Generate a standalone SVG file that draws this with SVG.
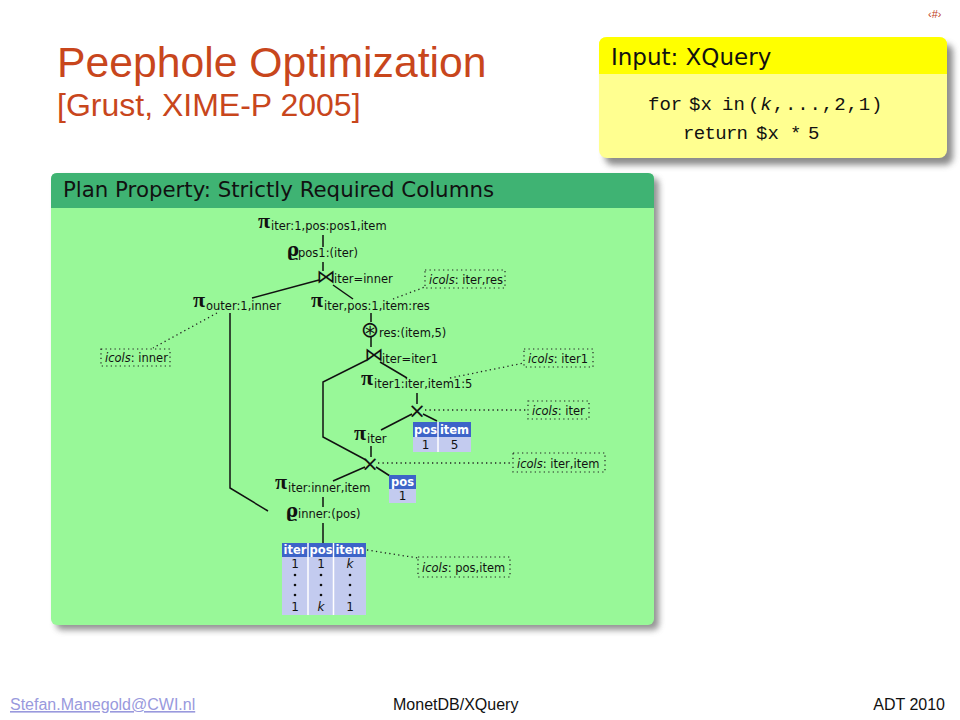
<svg xmlns="http://www.w3.org/2000/svg" width="960" height="720" viewBox="0 0 960 720">
<style>
.title{font-family:"Liberation Sans",Arial,sans-serif;fill:#c8461c}
.pi{font-family:"Liberation Serif","DejaVu Serif",serif;font-weight:bold;font-size:22px;fill:#111}
.rho{font-family:"DejaVu Serif",serif;font-weight:bold;font-size:18px;fill:#111}
.sub{font-family:"DejaVu Sans",sans-serif;font-size:11.5px;fill:#111}
.sym{font-family:"DejaVu Sans",sans-serif;fill:#111;text-anchor:middle}
.ic{font-family:"DejaVu Sans",sans-serif;font-size:11.5px;fill:#111}
.it{font-style:italic}
.edge{stroke:#111;stroke-width:1.5;fill:none}
.lead{stroke:#222;stroke-width:1.3;stroke-dasharray:1.3 3.2;fill:none}
.box{stroke:#222;stroke-width:1.2;stroke-dasharray:1.3 3.2;fill:none}
.th{fill:#3d64c8}
.tb{fill:#c3cbef}
.sep{stroke:#fff;stroke-width:1.5}
.tht{font-family:"DejaVu Sans",sans-serif;font-weight:bold;font-size:11.5px;fill:#fff;text-anchor:middle}
.tbt{font-family:"DejaVu Sans",sans-serif;font-size:12px;fill:#111;text-anchor:middle}
.dot{fill:#111}
.hdr{font-family:"DejaVu Sans",sans-serif;fill:#111}
.code{font-family:"Liberation Mono","DejaVu Sans Mono",monospace;font-size:19px;fill:#111}
.foot{font-family:"Liberation Sans",Arial,sans-serif;font-size:16px}
</style>
<defs>
<filter id="sh" x="-10%" y="-10%" width="130%" height="130%"><feGaussianBlur stdDeviation="3"/></filter>
</defs>
<rect x="0" y="0" width="960" height="720" fill="#fff"/>

<g id="title">
<text class="title" x="57" y="77" font-size="42.7">Peephole Optimization</text>
<text class="title" x="57" y="116" font-size="32">[Grust, XIME-P 2005]</text>
<text x="928" y="18" font-family="Liberation Sans,Arial,sans-serif" font-size="11" fill="#c0401a">‹#›</text>
</g>

<g id="input-box">
<rect x="605" y="44" width="348" height="121" rx="8" fill="#666" opacity="0.75" filter="url(#sh)"/>
<rect x="599" y="37" width="348" height="121" rx="8" fill="#ffff90"/>
<path d="M599,74 V45 Q599,37 607,37 H939 Q947,37 947,45 V74 Z" fill="#ffff00"/>
<text class="hdr" x="611" y="65" font-size="23">Input: XQuery</text>
<text class="code" y="110"><tspan x="648">for</tspan><tspan x="689">$x</tspan><tspan x="722">in</tspan><tspan x="748" letter-spacing="0.9">(<tspan class="it">k</tspan>,...,2,1)</tspan></text>
<text class="code" y="139"><tspan x="683" textLength="65">return</tspan><tspan x="756">$x</tspan><tspan x="790">*</tspan><tspan x="808">5</tspan></text>
</g>

<g id="plan-box">
<rect x="56" y="178" width="603" height="452" rx="6" fill="#666" opacity="0.7" filter="url(#sh)"/>
<rect x="51" y="173" width="603" height="452" rx="6" fill="#98f898"/>
<path d="M51,208 V179 Q51,173 57,173 H648 Q654,173 654,179 V208 Z" fill="#3fb373"/>
<text class="hdr" x="63" y="197" font-size="21" textLength="431" lengthAdjust="spacingAndGlyphs">Plan Property: Strictly Required Columns</text>
</g>

<g id="connectors">
<path class="edge" d="M323,235 V247"/>
<path class="edge" d="M323,262 V271"/>
<path class="edge" d="M319,280 L252,298"/>
<path class="edge" d="M333,285 L353,299"/>
<path class="edge" d="M230,313 V488 L268,511"/>
<path class="edge" d="M371,313 V322"/>
<path class="edge" d="M371,337 V347"/>
<path class="edge" d="M367,360 L323,382 V437 L366,460"/>
<path class="edge" d="M380,362 L407,378"/>
<path class="edge" d="M417,393 V404"/>
<path class="edge" d="M412,414 L381,430"/>
<path class="edge" d="M423,414 L437,421"/>
<path class="edge" d="M371,446 V457"/>
<path class="edge" d="M365,467 L333,481"/>
<path class="edge" d="M376,467 L390,476"/>
<path class="edge" d="M323,497 V507"/>
<path class="edge" d="M323,523 V543"/>
<path class="lead" d="M217,313 L153,348"/>
<path class="lead" d="M393,299 L425,287"/>
<path class="lead" d="M450,378 L524,363"/>
<path class="lead" d="M425,410 H528"/>
<path class="lead" d="M378,463 H513"/>
<path class="lead" d="M367,550 L418,558"/>
</g>

<g id="n-proj-top">
<text class="pi" x="258" y="228">π</text>
<text class="sub" x="271" y="230">iter:1,pos:pos1,item</text>
</g>
<g id="n-rho-pos1">
<text class="rho" x="287" y="256">ϱ</text>
<text class="sub" x="298" y="257">pos1:(iter)</text>
</g>
<g id="n-join-inner">
<text class="sym" x="326" y="283" font-size="19">⋈</text>
<text class="sub" x="334" y="283">iter=inner</text>
</g>
<g id="n-proj-outer">
<text class="pi" x="193" y="307">π</text>
<text class="sub" x="206" y="310">outer:1,inner</text>
</g>
<g id="n-proj-res">
<text class="pi" x="311" y="307">π</text>
<text class="sub" x="324" y="310">iter,pos:1,item:res</text>
</g>
<g id="n-fun">
<text class="sym" x="370" y="337" font-size="22">⊛</text>
<text class="sub" x="379" y="337">res:(item,5)</text>
</g>
<g id="n-join-iter1">
<text class="sym" x="374" y="361" font-size="19">⋈</text>
<text class="sub" x="382" y="363">iter=iter1</text>
</g>
<g id="n-proj-iter1">
<text class="pi" x="361" y="385">π</text>
<text class="sub" x="374" y="388">iter1:iter,item1:5</text>
</g>
<g id="n-cross1">
<text class="sym" x="417" y="417.5" font-size="21">×</text>
</g>
<g id="n-lit1">
<rect class="th" x="413" y="422" width="58" height="15"/>
<rect class="tb" x="413" y="437" width="58" height="15"/>
<line class="sep" x1="438" y1="422" x2="438" y2="452"/>
<text class="tht" x="425.5" y="434">pos</text>
<text class="tht" x="454.5" y="434">item</text>
<text class="tbt" x="425.5" y="449">1</text>
<text class="tbt" x="454.5" y="449">5</text>
</g>
<g id="n-proj-iter">
<text class="pi" x="354" y="440">π</text>
<text class="sub" x="367" y="443">iter</text>
</g>
<g id="n-cross2">
<text class="sym" x="370" y="470.5" font-size="21">×</text>
</g>
<g id="n-lit2">
<rect class="th" x="389" y="475" width="27" height="14"/>
<rect class="tb" x="389" y="489" width="27" height="14"/>
<text class="tht" x="402.5" y="486">pos</text>
<text class="tbt" x="402.5" y="500">1</text>
</g>
<g id="n-proj-inner">
<text class="pi" x="275" y="489">π</text>
<text class="sub" x="288" y="492">iter:inner,item</text>
</g>
<g id="n-rho-inner">
<text class="rho" x="286" y="517">ϱ</text>
<text class="sub" x="298" y="518">inner:(pos)</text>
</g>
<g id="n-table">
<rect class="th" x="282" y="543" width="84" height="14"/>
<rect class="tb" x="282" y="557" width="84" height="58"/>
<line class="sep" x1="308" y1="543" x2="308" y2="615"/>
<line class="sep" x1="333.5" y1="543" x2="333.5" y2="615"/>
<text class="tht" x="295" y="554">iter</text>
<text class="tht" x="321" y="554">pos</text>
<text class="tht" x="350" y="554">item</text>
<text class="tbt" x="295" y="568">1</text>
<text class="tbt" x="321" y="568">1</text>
<text class="tbt it" x="350" y="568">k</text>
<circle class="dot" cx="295" cy="575" r="1.3"/><circle class="dot" cx="295" cy="585" r="1.3"/><circle class="dot" cx="295" cy="595" r="1.3"/>
<circle class="dot" cx="321" cy="575" r="1.3"/><circle class="dot" cx="321" cy="585" r="1.3"/><circle class="dot" cx="321" cy="595" r="1.3"/>
<circle class="dot" cx="350" cy="575" r="1.3"/><circle class="dot" cx="350" cy="585" r="1.3"/><circle class="dot" cx="350" cy="595" r="1.3"/>
<text class="tbt" x="295" y="611">1</text>
<text class="tbt it" x="321" y="611">k</text>
<text class="tbt" x="350" y="611">1</text>
</g>

<g id="icols-inner">
<rect class="box" x="101" y="349" width="69" height="17"/>
<text class="ic" x="105" y="362"><tspan class="it">icols</tspan>: inner</text>
</g>
<g id="icols-iter-res">
<rect class="box" x="425" y="270" width="80" height="18"/>
<text class="ic" x="429" y="284"><tspan class="it">icols</tspan>: iter,res</text>
</g>
<g id="icols-iter1">
<rect class="box" x="524" y="349" width="69" height="18"/>
<text class="ic" x="528" y="363"><tspan class="it">icols</tspan>: iter1</text>
</g>
<g id="icols-iter">
<rect class="box" x="528" y="401" width="61" height="18"/>
<text class="ic" x="532" y="415"><tspan class="it">icols</tspan>: iter</text>
</g>
<g id="icols-iter-item">
<rect class="box" x="513" y="453" width="92" height="19"/>
<text class="ic" x="517" y="468"><tspan class="it">icols</tspan>: iter,item</text>
</g>
<g id="icols-pos-item">
<rect class="box" x="418" y="557" width="92" height="20"/>
<text class="ic" x="422" y="572"><tspan class="it">icols</tspan>: pos,item</text>
</g>

<g id="footer">
<text class="foot" x="10" y="710" fill="#9999dd" text-decoration="underline">Stefan.Manegold@CWI.nl</text>
<text class="foot" x="393" y="710" fill="#111">MonetDB/XQuery</text>
<text class="foot" x="945" y="710" fill="#111" text-anchor="end">ADT 2010</text>
</g>
</svg>
